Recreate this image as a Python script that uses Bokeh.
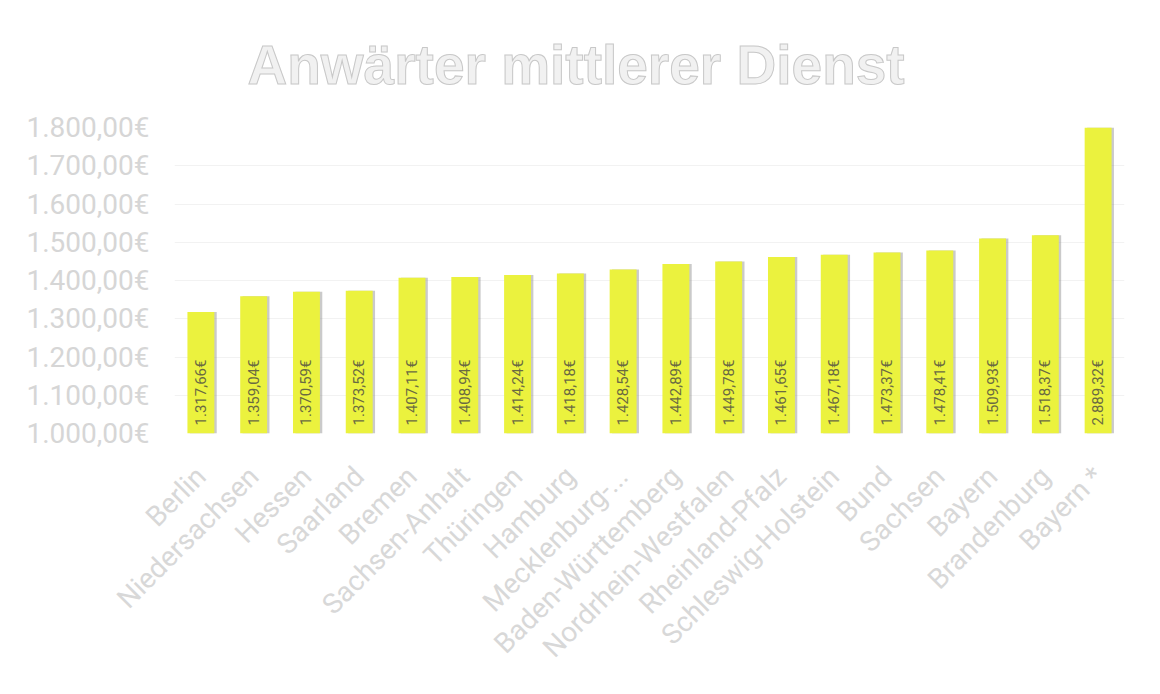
from math import pi
from bokeh.plotting import figure
from bokeh.models import Range1d, FixedTicker, ColumnDataSource
from bokeh.transform import dodge
from bokeh.core.properties import value
from bokeh.embed import file_html
from bokeh.resources import INLINE

TITLE = "Anwärter mittlerer Dienst"
CATEGORIES = ["Berlin", "Niedersachsen", "Hessen", "Saarland", "Bremen", "Sachsen-Anhalt",
              "Thüringen", "Hamburg", "Mecklenburg-...", "Baden-Württemberg",
              "Nordrhein-Westfalen", "Rheinland-Pfalz", "Schleswig-Holstein", "Bund",
              "Sachsen", "Bayern", "Brandenburg", "Bayern *"]
VALUES = [1317.66, 1359.04, 1370.59, 1373.52, 1407.11, 1408.94, 1414.24, 1418.18, 1428.54,
          1442.89, 1449.78, 1461.65, 1467.18, 1473.37, 1478.41, 1509.93, 1518.37, 2889.32]
Y_TICKS = [1000, 1100, 1200, 1300, 1400, 1500, 1600, 1700, 1800]
Y_TICK_LABELS = ["1.000,00€", "1.100,00€", "1.200,00€", "1.300,00€", "1.400,00€",
                 "1.500,00€", "1.600,00€", "1.700,00€", "1.800,00€"]
Y_MIN, Y_MAX = 1000, 1800


def de_eur(v):
    s = f"{v:,.2f}"
    return s.replace(",", "X").replace(".", ",").replace("X", ".") + "€"


src = ColumnDataSource(dict(
    cat=CATEGORIES,
    val=VALUES,
    base=[Y_MIN] * len(VALUES),
    lab=[de_eur(v) for v in VALUES],
))

p = figure(x_range=CATEGORIES, y_range=Range1d(Y_MIN, Y_MAX),
           width=1144, height=678, output_backend="svg", toolbar_location=None,
           min_border_left=174, min_border_right=20, min_border_top=127,
           min_border_bottom=238)
p.outline_line_color = None
p.background_fill_color = "white"
p.border_fill_color = "white"

# title
p.title.text = TITLE
p.title.align = "left"
p.title.offset = 73
p.title.text_font = "Liberation Sans"
p.title.text_font_style = "bold"
p.title.text_font_size = "55px"
p.title.text_color = "#f1f1f1"
p.title.standoff = 63
try:
    p.title.text_outline_color = "#c8c8c8"
except Exception:
    pass

# bar shadow
p.vbar(x=dodge("cat", 0.045, range=p.x_range), top="val", bottom="base", width=0.51,
       source=src, fill_color="#8a8a8a", fill_alpha=0.45, line_color=None)
p.vbar(x="cat", top="val", bottom="base", width=0.51, source=src,
       fill_color="#ebf23e", line_color=None)

p.text(x="cat", y="base", text="lab", source=src, angle=pi / 2, text_align="left",
       text_baseline="middle", y_offset=-8, text_font_size="15px",
       text_font=value("Roboto"), text_color="#6a6a42")

# axes
p.yaxis.ticker = FixedTicker(ticks=Y_TICKS)
p.yaxis.major_label_overrides = {t: l for t, l in zip(Y_TICKS, Y_TICK_LABELS)}
p.yaxis.major_label_text_font = "Roboto"
p.yaxis.major_label_text_font_size = "28px"
p.yaxis.major_label_text_color = "#d6d6d6"
p.yaxis.axis_line_color = None
p.yaxis.major_tick_line_color = None
p.yaxis.minor_tick_line_color = None
p.yaxis.major_label_standoff = 19

p.xaxis.major_label_orientation = pi / 4
p.xaxis.major_label_text_font = "Roboto"
p.xaxis.major_label_text_font_size = "28px"
p.xaxis.major_label_text_color = "#d8d8d8"
p.xaxis.axis_line_color = None
p.xaxis.major_tick_line_color = None
p.xaxis.minor_tick_line_color = None
p.xaxis.major_label_standoff = 32

p.xgrid.grid_line_color = None
p.ygrid.grid_line_color = "#f2f2f2"
p.ygrid.grid_line_width = 1

open("out.html", "w").write(file_html(p, INLINE))
